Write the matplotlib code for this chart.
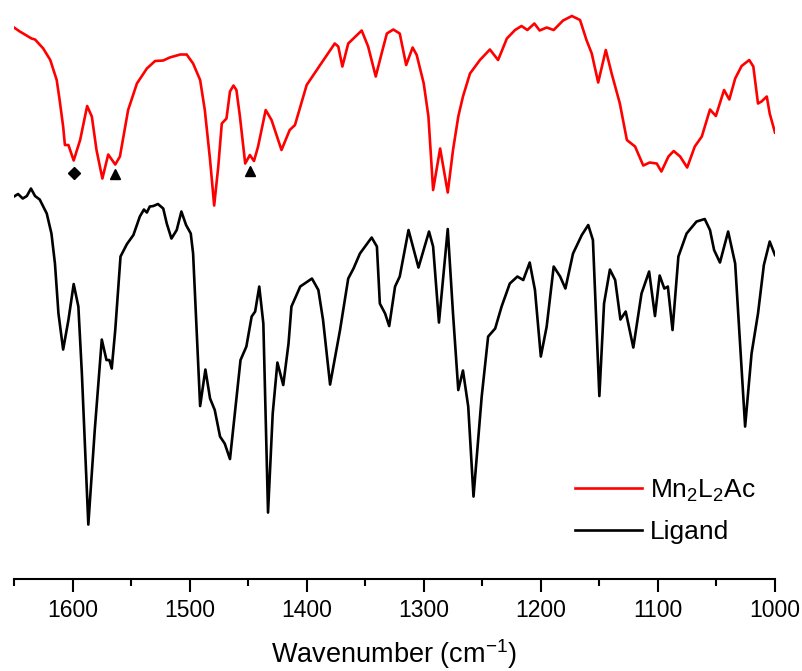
import matplotlib
matplotlib.use("Agg")
import matplotlib.pyplot as plt
from matplotlib.ticker import MultipleLocator

plt.rcParams['font.family'] = ['Liberation Sans', 'DejaVu Sans']
plt.rcParams['mathtext.fontset'] = 'custom'
plt.rcParams['mathtext.rm'] = 'Liberation Sans'
plt.rcParams['mathtext.it'] = 'Liberation Sans:italic'
plt.rcParams['mathtext.default'] = 'regular'

# Mn2L2Ac spectrum (wavenumber, transmittance in arbitrary offset units)
mn_wn = [1650, 1645, 1635, 1632, 1625, 1619, 1613.5, 1611, 1608, 1606.5, 1603.5, 1599,
         1593.5, 1587.5, 1583.5, 1579.5, 1574.5, 1569.5, 1563.5, 1559.5, 1552.5, 1545,
         1536.5, 1529.5, 1522.5, 1517, 1508, 1502.5, 1497, 1491, 1487, 1482.5, 1479,
         1475.5, 1472.5, 1468.5, 1465.5, 1462.5, 1460, 1457, 1452.5, 1448.5, 1445,
         1441.5, 1435, 1430, 1421.5, 1414.5, 1410, 1400, 1388.5, 1376, 1373, 1369.5,
         1364.5, 1353, 1347.5, 1341, 1336, 1331.5, 1326, 1320.5, 1315, 1309.5, 1306,
         1300, 1296, 1292, 1286, 1279.5, 1275, 1270.5, 1266.5, 1260.5, 1252, 1243.5,
         1236.5, 1229, 1222, 1216.5, 1211.5, 1205.5, 1201, 1195, 1189, 1181, 1173.5,
         1166.5, 1161, 1156.5, 1151, 1144.5, 1139.5, 1132.5, 1126.5, 1119.5, 1112.5,
         1107, 1101, 1097, 1091, 1086.5, 1081, 1075, 1068.5, 1062.5, 1055.5, 1050.5,
         1043.5, 1039, 1034, 1028.5, 1022, 1018.5, 1014.5, 1011.5, 1007, 1004.5, 1000]
mn_T = [114.5, 113.7, 112.3, 112.1, 110.3, 108, 104, 100, 94.7, 91, 91, 87.9,
        92, 98.8, 96.7, 90, 84.3, 89.1, 87.1, 88.7, 98, 103.3,
        106.3, 107.8, 107.9, 108.5, 109.1, 109.1, 107.3, 104, 98, 88, 78.9,
        86.7, 95.3, 96.3, 101.7, 102.9, 102, 96.7, 87.3, 89, 87.8,
        90.7, 98, 96, 90, 94, 95, 103, 107, 111.3, 110.7, 106.7,
        111.3, 113.9, 110.7, 104.7, 109.3, 113.3, 114.1, 113.3, 107, 110.5, 109,
        103.3, 96.7, 82, 90.3, 81.5, 90, 96.7, 100.7, 105.3, 108, 110.1,
        108, 112.3, 114, 114.8, 114, 115.3, 113.9, 114.5, 114, 115.9, 116.8,
        116, 112, 109.3, 103.5, 110, 105.3, 99.3, 92, 90.7, 86.9,
        87.5, 87.3, 85.7, 88.7, 89.8, 88.7, 86.5, 90.7, 92.7, 98.1, 96.8,
        102, 100.1, 104.3, 106.8, 108, 106.7, 99.3, 99.7, 100.7, 97.3, 93.5]

# Ligand spectrum
lig_wn = [1650, 1646.5, 1642.5, 1639, 1635.5, 1632, 1628, 1622, 1618, 1615, 1612, 1608,
          1603.5, 1599, 1595, 1592, 1586.5, 1581, 1575, 1571, 1568.5, 1566.5, 1563.5,
          1559, 1553.5, 1548, 1542.5, 1539, 1536.5, 1534, 1531, 1527, 1522.5, 1519.5,
          1515.5, 1511, 1507, 1503, 1499, 1497, 1494, 1491, 1486.5, 1482.5, 1478.5,
          1474, 1470, 1465.5, 1461, 1456.5, 1451.5, 1447, 1444, 1440.5, 1437, 1433,
          1429, 1425, 1420, 1415.5, 1413, 1405.5, 1395.5, 1390, 1386, 1380, 1371.5,
          1364.5, 1360, 1354.5, 1344.5, 1340, 1337.5, 1333, 1329.5, 1324.5, 1320.5,
          1313, 1304.5, 1295.5, 1292, 1287, 1279.5, 1275, 1270.5, 1266.5, 1262, 1257.5,
          1250.5, 1245, 1239, 1233.5, 1226.5, 1220, 1215, 1209.5, 1205, 1200, 1195,
          1189, 1183.5, 1179, 1172.5, 1165, 1159.5, 1155.5, 1150, 1146, 1141, 1136.5,
          1132, 1127.5, 1121, 1114, 1107.5, 1102.5, 1098.5, 1094.5, 1091.5, 1087.5,
          1082.5, 1075.5, 1067, 1060, 1055.5, 1052, 1047, 1040, 1034, 1030, 1025.5,
          1020, 1014.5, 1009.5, 1004.5, 1000]
lig_T = [80.7, 81.2, 80.3, 80.8, 82.3, 80.8, 80.1, 77.3, 73.3, 67.3, 57.3, 50.1,
         56, 63.2, 58.7, 45.3, 15.1, 34, 52.1, 48, 48, 46.3, 54,
         68.7, 71.2, 73, 76.7, 78.1, 77.5, 78.7, 78.8, 79.2, 78.3, 75.3,
         72.3, 74, 77.7, 75, 73.3, 69.3, 54, 38.8, 46.1, 40.3, 38,
         32.7, 31.3, 28.2, 38, 48, 50.7, 56.7, 57.7, 62.7, 55.3, 17.5,
         37.3, 47.5, 43, 51.3, 58.7, 62.7, 64.3, 62, 56, 43.1, 54,
         64.3, 66.3, 69.3, 72.5, 70.7, 59.3, 57.3, 54.8, 62.7, 64.7,
         74, 66.5, 73.7, 70.7, 55.5, 74.2, 57.3, 42, 45.9, 38.7, 20.7,
         40.7, 52.7, 54.3, 58.7, 63.3, 64.7, 64, 67.5, 62, 48.7, 54.7,
         66.7, 64.7, 62.3, 69.3, 73, 75, 72, 40.8, 59.3, 66.1, 64,
         56.1, 57.7, 50.5, 61.3, 65.7, 56.8, 64.9, 62.3, 62.7, 54,
         68.7, 73.3, 75.7, 76.2, 74, 70, 67.5, 73.7, 67.3, 52, 34.7,
         49.3, 57.3, 67, 71.7, 69]

# band markers under the Mn2L2Ac trace
diamond_wn = [1599]
diamond_T = [85.4]
triangle_wn = [1563.5, 1448]
triangle_T = [85.2, 85.8]

fig = plt.figure(figsize=(8.03, 6.71), dpi=100)
ax = fig.add_axes([0.0174, 0.137, 0.9477, 0.863])

ax.plot(mn_wn, mn_T, color='#ff0000', lw=1.9, label='Mn$_2$L$_2$Ac',
        solid_joinstyle='round')
ax.plot(lig_wn, lig_T, color='black', lw=1.9, label='Ligand',
        solid_joinstyle='round')
ax.plot(diamond_wn, diamond_T, 'kD', ms=6.5, ls='none')
ax.plot(triangle_wn, triangle_T, 'k^', ms=7.5, ls='none')

ax.set_xlim(1650, 1000)
ax.set_ylim(4.2, 120)

for s in ['left', 'right', 'top']:
    ax.spines[s].set_visible(False)
ax.spines['bottom'].set_linewidth(1.5)
ax.set_yticks([])

ax.xaxis.set_major_locator(MultipleLocator(100))
ax.xaxis.set_minor_locator(MultipleLocator(50))
ax.tick_params(axis='x', which='major', length=9, width=1.5, labelsize=16.5, pad=5)
ax.tick_params(axis='x', which='minor', length=5, width=1.5)
ax.set_xlabel('Wavenumber (cm$^{-1}$)', fontsize=19.5, labelpad=11)

ax.legend(loc='lower right', bbox_to_anchor=(1.006, 0.02), frameon=False,
          fontsize=19, handlelength=2.55, labelspacing=0.6, handletextpad=0.3)

fig.savefig('out.png', dpi=100)
